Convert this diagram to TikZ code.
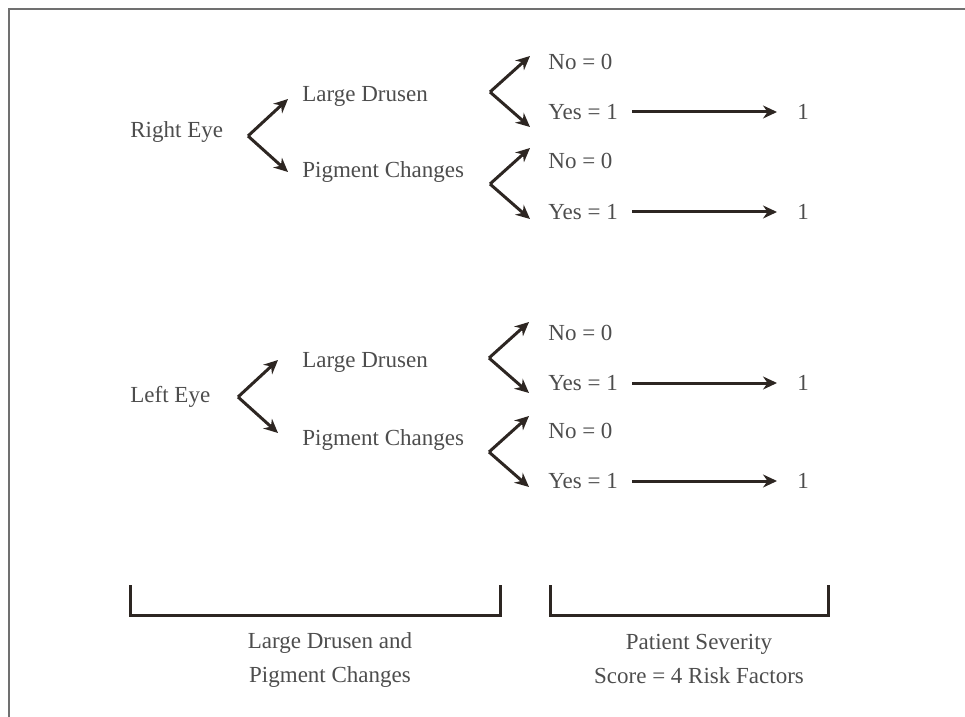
\documentclass[tikz,border=0pt]{standalone}
\usepackage{fontspec}
\setmainfont{Liberation Serif}
\usepackage{xcolor}
\usepackage{tikz}
\usetikzlibrary{arrows.meta}

\definecolor{inkdark}{HTML}{2D2622}
\definecolor{textgray}{HTML}{4D4D4D}
\definecolor{framegray}{HTML}{707070}

\begin{document}
\begin{tikzpicture}[
    x=0.5pt, y=-0.5pt,
    lbl/.style={font=\fontsize{11.5}{14}\selectfont, text=textgray, inner sep=0pt, anchor=west},
    capnode/.style={font=\fontsize{11.5}{17}\selectfont, text=textgray, inner sep=0pt, align=center},
    arrow/.style={-{Stealth[length=7pt, width=6.5pt]}, line width=1.5pt, draw=inkdark},
    bracket/.style={line width=1.5pt, draw=inkdark}
]
\useasboundingbox (0,0) rectangle (965,717);

% Frame (open on right and bottom)
\draw[framegray, line width=1.4pt] (9,717) -- (9,9) -- (965,9);

% Right eye
\node[lbl] (reye) at (130,132) {Right Eye};
\node[lbl] (rdru) at (302,96) {Large Drusen};
\node[lbl] (rpig) at (302,172) {Pigment Changes};
\node[lbl] (rdno) at (548,62) {No = 0};
\node[lbl] (rdyes) at (548,112) {Yes = 1};
\node[lbl] (rpno) at (548,161) {No = 0};
\node[lbl] (rpyes) at (548,212) {Yes = 1};
\node[lbl] (rdone) at (797,112) {1};
\node[lbl] (rpone) at (797,212) {1};

% Left eye
\node[lbl] (leye) at (130,397) {Left Eye};
\node[lbl] (ldru) at (302,362) {Large Drusen};
\node[lbl] (lpig) at (302,440) {Pigment Changes};
\node[lbl] (ldno) at (548,333) {No = 0};
\node[lbl] (ldyes) at (548,383) {Yes = 1};
\node[lbl] (lpno) at (548,431) {No = 0};
\node[lbl] (lpyes) at (548,481) {Yes = 1};
\node[lbl] (ldone) at (797,383) {1};
\node[lbl] (lpone) at (797,481) {1};

% Fork points
\coordinate (rv) at (248,136);
\coordinate (lv) at (238,397);
\coordinate (rdv) at (490,92);
\coordinate (rpv) at (490,184);
\coordinate (ldv) at (489,358);
\coordinate (lpv) at (489,452);

% Forks
\foreach \v in {rv, lv} {
    \draw[arrow] (\v) -- ++(40,-37);
    \draw[arrow] (\v) -- ++(40,36);
}
\foreach \v in {rdv, rpv, ldv, lpv} {
    \draw[arrow] (\v) -- ++(40,-36);
    \draw[arrow] (\v) -- ++(40,35);
}

% Yes = 1 carried to the score
\foreach \a/\b in {rdyes/rdone, rpyes/rpone, ldyes/ldone, lpyes/lpone} {
    \draw[arrow, shorten <=7pt, shorten >=10pt] (\a.east) -- (\b.west);
}

% Brackets
\draw[bracket] (130,585) -- (130,615) -- (500,615) -- (500,585);
\draw[bracket] (550,585) -- (550,615) -- (828,615) -- (828,585);

% Bracket captions
\node[capnode] (lcap) at (330,660) {Large Drusen and\\Pigment Changes};
\node[capnode] (rcap) at (699,659) {Patient Severity\\Score = 4 Risk Factors};

\end{tikzpicture}
\end{document}
